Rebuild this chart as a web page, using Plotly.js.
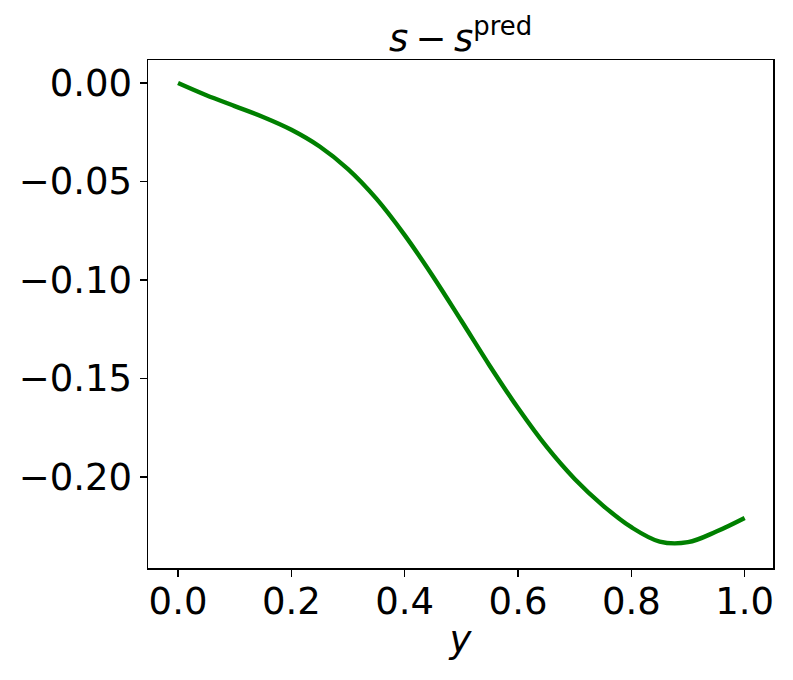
<!DOCTYPE html>
<html>
<head>
<meta charset="utf-8">
<script src="https://cdn.plot.ly/plotly-3.0.1.min.js"></script>
<style>
  body { margin: 0; background: white; }
  #plot01 { width: 793px; height: 680px; }
</style>
</head>
<body>
<div id="plot01"></div>
<script>
// values
const yPos = [0, 0.05, 0.1, 0.15, 0.2, 0.25, 0.3, 0.35, 0.4, 0.45, 0.5, 0.55, 0.6, 0.65, 0.7, 0.75, 0.8, 0.85, 0.9, 0.95, 1.0];
const residual = [0, -0.0062, -0.0117, -0.0172, -0.0237, -0.0322, -0.0437, -0.0587, -0.0772, -0.0982, -0.1207, -0.1435, -0.165, -0.1845, -0.201, -0.2145, -0.2255, -0.2328, -0.2331, -0.2277, -0.2208];
const xTicks = [0, 0.2, 0.4, 0.6, 0.8, 1.0];
const yTicks = [0, -0.05, -0.10, -0.15, -0.20];

const font = { family: 'DejaVu Sans', size: 37, color: 'black' };

const data = [{
    type: 'scatter',
    mode: 'lines',
    x: yPos,
    y: residual,
    line: { color: '#008000', width: 4.4, shape: 'spline', smoothing: 1 },
    hoverinfo: 'x+y',
}];

const layout = {
    width: 793,
    height: 680,
    font: font,
    showlegend: false,
    title: {
        text: '<i>s</i>\u2009−\u2009<i>s</i><sup>pred</sup>',
        font: font,
        xref: 'paper',
        x: 0.5,
        yref: 'container',
        y: 0.925,
        yanchor: 'bottom',
    },
    xaxis: {
        range: [-0.053, 1.05],
        tickvals: xTicks,
        tickformat: '.1f',
        ticks: 'outside',
        ticklen: 7,
        tickwidth: 1.2,
        tickcolor: 'black',
        ticklabelstandoff: -7,
        showgrid: false,
        zeroline: false,
        showline: true,
        mirror: true,
        linecolor: 'black',
        linewidth: 1.5,
        tickfont: font,
        title: { text: '<i>y</i>', font: font, standoff: 4 },
    },
    yaxis: {
        range: [-0.2462, 0.0117],
        tickvals: yTicks,
        tickformat: '.2f',
        ticks: 'outside',
        ticklen: 7,
        tickwidth: 1.2,
        tickcolor: 'black',
        showgrid: false,
        zeroline: false,
        showline: true,
        mirror: true,
        linecolor: 'black',
        linewidth: 1.5,
        tickfont: font,
    },
    margin: { l: 148, r: 20, t: 60, b: 112 },
    paper_bgcolor: 'white',
    plot_bgcolor: 'white',
};

const config = { displayModeBar: false, staticPlot: true };

Plotly.newPlot('plot01', data, layout, config);
</script>
</body>
</html>
